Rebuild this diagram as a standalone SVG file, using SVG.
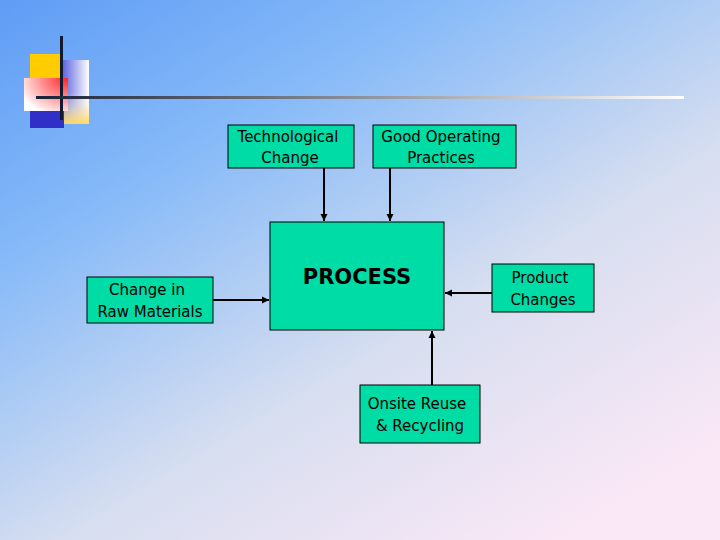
<svg xmlns="http://www.w3.org/2000/svg" width="720" height="540" viewBox="0 0 720 540">
<defs>
<linearGradient id="bg" x1="0" y1="0" x2="0.8" y2="1">
<stop offset="0" stop-color="#5f9cf5"/>
<stop offset="0.3" stop-color="#86baf8"/>
<stop offset="0.65" stop-color="#d6def0"/>
<stop offset="1" stop-color="#fbe8f6"/>
</linearGradient>
<linearGradient id="bw" x1="0" y1="0" x2="1" y2="0">
<stop offset="0" stop-color="#5a60e0"/><stop offset="1" stop-color="#ffffff"/>
</linearGradient>
<linearGradient id="yw" x1="0" y1="1" x2="0" y2="0">
<stop offset="0" stop-color="#ffd860"/><stop offset="0.5" stop-color="#ffffff" stop-opacity="0"/>
</linearGradient>
<radialGradient id="rw" cx="1" cy="0" r="1.2">
<stop offset="0" stop-color="#ff2020"/><stop offset="1" stop-color="#ffffff"/>
</radialGradient>
<linearGradient id="ln" x1="0" y1="0" x2="1" y2="0">
<stop offset="0" stop-color="#1a2238"/><stop offset="1" stop-color="#ffffff"/>
</linearGradient>
<marker id="ah" markerWidth="8" markerHeight="8" refX="7" refY="4" orient="auto" markerUnits="userSpaceOnUse">
<path d="M0,0.5 L7,4 L0,7.5 z" fill="#000"/>
</marker>
<style>
.box{fill:#00dca6;stroke:#000;stroke-width:1}
.t{font-family:"DejaVu Sans",sans-serif;font-size:15px;fill:#000;text-anchor:middle}
.c{stroke:#000;stroke-width:2;fill:none;marker-end:url(#ah)}
</style>
</defs>
<rect width="720" height="540" fill="url(#bg)"/>
<g id="decor">
<rect x="30" y="54" width="33" height="26" fill="#ffcc00"/>
<rect x="62" y="60" width="27" height="64" fill="url(#bw)"/>
<rect x="62" y="60" width="27" height="64" fill="url(#yw)"/>
<rect x="30" y="110" width="34" height="18" fill="#3030c8"/>
<rect x="24" y="78" width="44" height="33" fill="url(#rw)"/>
<rect x="60" y="36" width="3" height="84" fill="#111a30"/>
<rect x="36" y="96" width="648" height="3" fill="url(#ln)"/>
</g>
<g id="connectors">
<line class="c" x1="324" y1="168" x2="324" y2="221"/>
<line class="c" x1="390" y1="168" x2="390" y2="221"/>
<line class="c" x1="213" y1="300" x2="269" y2="300"/>
<line class="c" x1="492" y1="293" x2="445" y2="293"/>
<line class="c" x1="432" y1="385" x2="432" y2="331"/>
</g>
<g id="process"><rect class="box" x="270" y="222" width="174" height="108"/>
<text x="357" y="284" style="font-family:'DejaVu Sans',sans-serif;font-size:21px;font-weight:bold;text-anchor:middle">PROCESS</text></g>
<g id="tech"><rect class="box" x="228" y="125" width="126" height="43"/>
<text class="t" x="288" y="142">Technological</text><text class="t" x="290" y="163">Change</text></g>
<g id="good"><rect class="box" x="373" y="125" width="143" height="43"/>
<text class="t" x="441" y="142">Good Operating</text><text class="t" x="441" y="163">Practices</text></g>
<g id="raw"><rect class="box" x="87" y="277" width="126" height="46"/>
<text class="t" x="147" y="295">Change in</text><text class="t" x="150" y="317">Raw Materials</text></g>
<g id="product"><rect class="box" x="492" y="264" width="102" height="48"/>
<text class="t" x="540" y="283">Product</text><text class="t" x="543" y="305">Changes</text></g>
<g id="onsite"><rect class="box" x="360" y="385" width="120" height="58"/>
<text class="t" x="417" y="409">Onsite Reuse</text><text class="t" x="420" y="431">&amp; Recycling</text></g>
</svg>
